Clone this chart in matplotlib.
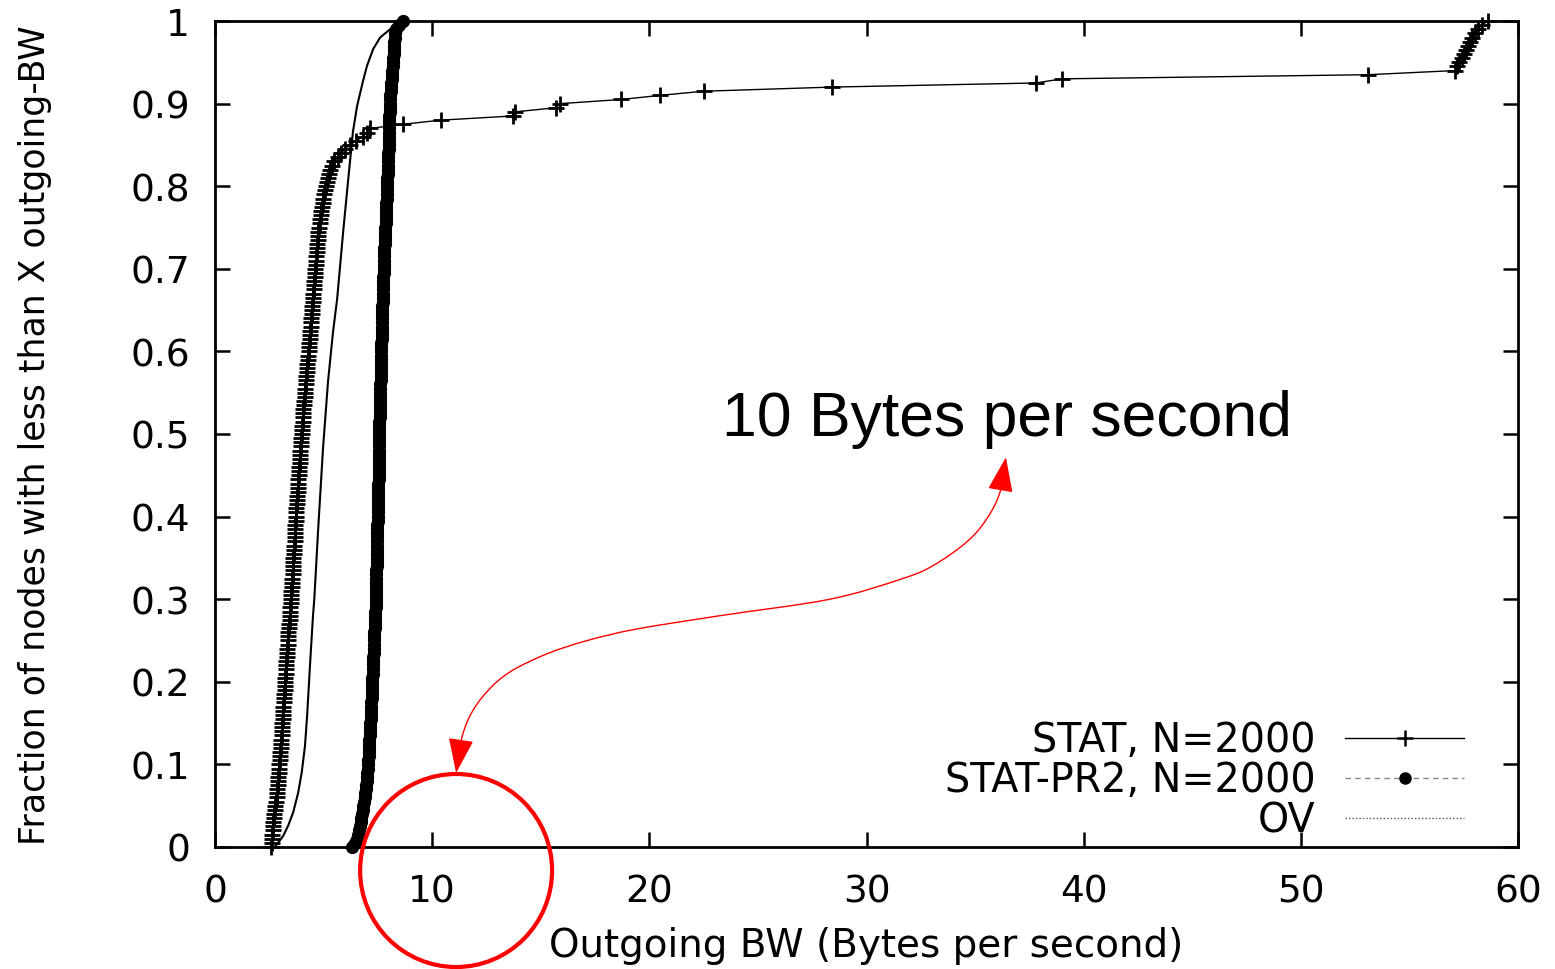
import numpy as np
import matplotlib
matplotlib.use("Agg")
import matplotlib.pyplot as plt
from matplotlib.lines import Line2D
from matplotlib.patches import Ellipse, FancyArrowPatch, ArrowStyle
from matplotlib.path import Path

# sorted per-node outgoing bandwidth samples (one every 10 nodes)
stat_bw = [
    2.58, 2.60, 2.61, 2.63, 2.65, 2.67, 2.69, 2.71, 2.73, 2.76, 2.78, 2.81, 2.84,
    2.85, 2.87, 2.88, 2.90, 2.91, 2.93, 2.94, 2.96, 2.97, 2.99, 3.00, 3.02, 3.03, 3.04, 3.06, 3.07,
    3.08, 3.09, 3.11, 3.12, 3.13, 3.15, 3.16, 3.17, 3.18, 3.20, 3.21, 3.22, 3.23, 3.25, 3.26, 3.27,
    3.28, 3.30, 3.31, 3.33, 3.34, 3.36, 3.37, 3.38, 3.40, 3.41, 3.43, 3.44, 3.46, 3.47, 3.49, 3.50,
    3.51, 3.52, 3.53, 3.55, 3.56, 3.57, 3.58, 3.59, 3.60, 3.61, 3.63, 3.64, 3.65, 3.66, 3.67, 3.68,
    3.69, 3.70, 3.72, 3.73, 3.74, 3.75, 3.77, 3.78, 3.79, 3.80, 3.82, 3.83, 3.84, 3.85, 3.87, 3.88,
    3.89, 3.91, 3.92, 3.93, 3.95, 3.96, 3.98, 3.99, 4.00, 4.02, 4.03, 4.05, 4.06, 4.07, 4.09, 4.10,
    4.12, 4.13, 4.15, 4.17, 4.19, 4.20, 4.22, 4.24, 4.25, 4.27, 4.29, 4.31, 4.32, 4.34, 4.35, 4.37,
    4.39, 4.40, 4.42, 4.44, 4.45, 4.47, 4.48, 4.50,
    4.51, 4.53, 4.54, 4.56, 4.57, 4.59, 4.60, 4.62, 4.63, 4.65, 4.66, 4.68, 4.69, 4.71, 4.72, 4.74, 4.76,
    4.78, 4.81, 4.84, 4.86, 4.89, 4.92, 4.95, 4.98,
    5.02, 5.06, 5.11, 5.16, 5.21, 5.26, 5.31, 5.37,
    5.50, 5.65, 5.80, 6.00, 6.20,
    6.50, 6.80, 7.00, 7.15,
    8.66, 10.4, 13.7, 13.8, 15.7, 15.9, 18.7, 20.5, 22.5, 28.4, 37.8, 39.0, 53.1, 57.1,
    57.2, 57.3, 57.4, 57.5, 57.6, 57.7, 57.8, 57.9, 58.0, 58.15, 58.35, 58.6,
]

pr2_bw = [
    6.30, 6.45, 6.52, 6.58, 6.62, 6.66, 6.70, 6.73, 6.76, 6.79, 6.82, 6.86, 6.90,
    6.92, 6.94, 6.96, 6.98, 7.00, 7.02, 7.03, 7.05,
    7.06, 7.07, 7.08, 7.09, 7.10, 7.11, 7.12, 7.13, 7.14, 7.15, 7.16, 7.17, 7.18, 7.19, 7.20, 7.21,
    7.22, 7.23, 7.23, 7.24, 7.25, 7.26, 7.27, 7.27, 7.28, 7.29, 7.30, 7.31, 7.31, 7.32, 7.33, 7.34,
    7.35, 7.35, 7.36, 7.37, 7.38, 7.39, 7.39, 7.40,
    7.40, 7.41, 7.41, 7.42, 7.42, 7.43, 7.43, 7.44, 7.44, 7.45, 7.45, 7.46, 7.46, 7.47, 7.47, 7.47,
    7.48, 7.48, 7.49, 7.49, 7.50, 7.50, 7.51, 7.51,
    7.51, 7.52, 7.52, 7.52, 7.53, 7.53, 7.53, 7.54, 7.54, 7.54, 7.55, 7.55, 7.55, 7.56, 7.56, 7.56,
    7.57, 7.57, 7.57, 7.58, 7.58, 7.58, 7.59, 7.59,
    7.60, 7.60, 7.61, 7.61, 7.62, 7.62, 7.63, 7.63, 7.64, 7.64, 7.65, 7.65, 7.66, 7.66, 7.67, 7.67,
    7.68, 7.68, 7.69, 7.69, 7.70, 7.70, 7.71, 7.72,
    7.72, 7.73, 7.73, 7.74, 7.75, 7.75, 7.76, 7.77, 7.77, 7.78, 7.79, 7.79, 7.80, 7.81, 7.81, 7.82, 7.83,
    7.84, 7.85, 7.86, 7.86, 7.87, 7.88, 7.89, 7.90, 7.91, 7.92, 7.93, 7.94, 7.94, 7.95, 7.96, 7.97,
    7.97, 7.98, 7.98, 7.99, 7.99, 8.00, 8.00, 8.01, 8.01, 8.02, 8.03, 8.03, 8.04, 8.04, 8.05, 8.06,
    8.07, 8.09, 8.10, 8.12, 8.13, 8.15, 8.16, 8.18,
    8.19, 8.21, 8.22, 8.23, 8.25, 8.26, 8.27, 8.29,
    8.35, 8.45, 8.66,
]

# OV curve (x, fraction) pairs
ov_bw = [2.75, 3.13, 3.37, 3.60, 3.83, 3.99, 4.14, 4.24, 4.37, 4.51, 4.57, 4.74, 4.97, 5.20,
         5.43, 5.62, 5.90, 6.12, 6.35, 6.54, 6.80, 7.00, 7.28, 7.60, 8.06, 8.50, 8.80, 10.5]
ov_frac = [0, 0.013, 0.026, 0.042, 0.066, 0.09, 0.122, 0.159, 0.219, 0.28, 0.30, 0.381, 0.482,
           0.563, 0.623, 0.663, 0.745, 0.805, 0.866, 0.897, 0.926, 0.946, 0.966, 0.98, 0.99,
           0.999, 1.0, 1.0]

labels = ["STAT, N=2000", "STAT-PR2, N=2000", "OV"]
x_ticks = [0, 10, 20, 30, 40, 50, 60]
y_ticks = [0, 0.1, 0.2, 0.3, 0.4, 0.5, 0.6, 0.7, 0.8, 0.9, 1.0]
y_tick_labels = ["0", "0.1", "0.2", "0.3", "0.4", "0.5", "0.6", "0.7", "0.8", "0.9", "1"]
note = "10 Bytes per second"


def ecdf(values):
    xs = np.sort(np.asarray(values, dtype=float))
    ys = np.arange(len(xs)) / (len(xs) - 1)
    return xs, ys


def smooth_path(pts):
    # catmull-rom through the points, as cubic bezier pieces
    p = np.asarray(pts, dtype=float)
    p = np.vstack([p[0], p, p[-1]])
    verts = [p[1]]
    codes = [Path.MOVETO]
    for i in range(1, len(p) - 2):
        c1 = p[i] + (p[i + 1] - p[i - 1]) / 6.0
        c2 = p[i + 1] - (p[i + 2] - p[i]) / 6.0
        verts += [c1, c2, p[i + 1]]
        codes += [Path.CURVE4] * 3
    return Path(verts, codes)


plt.rcParams["font.family"] = ["DejaVu Sans"]

fig = plt.figure(figsize=(15.55, 9.70), dpi=100)
ax = fig.add_axes([0.1383, 0.1258, 0.8379, 0.8515])

sx, sy = ecdf(stat_bw)
ax.plot(sx, sy, color="black", lw=1.0, marker="+", ms=12, mew=2.0, clip_on=False, zorder=3)

px, py = ecdf(pr2_bw)
ax.plot(px, py, color="#777777", lw=1.0, ls="--", marker="o", ms=8.5,
        mfc="black", mec="black", clip_on=False, zorder=4)

ax.plot(ov_bw[:-1], ov_frac[:-1], color="black", lw=1.5, clip_on=False, zorder=2)
ax.plot(ov_bw[-2:], ov_frac[-2:], color="#555555", lw=1.0, ls=":", clip_on=False, zorder=2)

ax.set_xlim(0, 60)
ax.set_ylim(0, 1)
ax.set_xticks(x_ticks)
ax.set_yticks(y_ticks)
ax.set_yticklabels(y_tick_labels)
ax.tick_params(direction="in", top=True, right=True, length=11, width=1.8,
               labelsize=27, color="black")
ax.tick_params(axis="x", pad=19)
ax.tick_params(axis="y", pad=18)
for sp in ax.spines.values():
    sp.set_linewidth(2.0)

ax.set_xlabel("Outgoing BW (Bytes per second)", fontsize=28, va="center")
ax.xaxis.set_label_coords(0.5, -0.119)
ax.set_ylabel("Fraction of nodes with less than X outgoing-BW", fontsize=25,
              ha="center", va="center")
ax.yaxis.set_label_coords(-0.138, 0.5)

handles = [
    Line2D([], [], color="black", lw=1.0, marker="+", ms=12, mew=1.8),
    Line2D([], [], color="#888888", lw=1.0, ls=(0, (4, 3)), marker="o", ms=8,
           mfc="black", mec="black"),
    Line2D([], [], color="#555555", lw=1.0, ls=(0, (1, 1.5))),
]
leg = ax.legend(handles, labels, loc="lower right", bbox_to_anchor=(0.9586, 0.008),
                frameon=False, markerfirst=False, fontsize=28.5, handlelength=3.0,
                handletextpad=0.75, labelspacing=0.0, borderpad=0, borderaxespad=0)

# annotation: circle around the 10 B/s tick, curved arrow to the text
ax.add_patch(Ellipse((11.10, -0.0285), 8.84, 0.2337, fill=False, ec="red", lw=3.0,
                     clip_on=False, zorder=5))
arrow_pts = [(11.10, 0.0896), (11.31, 0.1268), (11.74, 0.1589), (12.51, 0.1877),
             (13.58, 0.2119), (15.27, 0.2337), (17.12, 0.2498), (19.42, 0.2639),
             (23.25, 0.2800), (28.32, 0.3000), (31.61, 0.3245), (33.06, 0.3406),
             (34.61, 0.3692), (35.53, 0.3970), (36.15, 0.4298), (36.42, 0.4718)]
arrow = FancyArrowPatch(path=smooth_path(arrow_pts),
                        arrowstyle=ArrowStyle("<|-|>", head_length=22, head_width=8),
                        mutation_scale=1, color="red", lw=1.0, clip_on=False, zorder=5)
ax.add_patch(arrow)
ax.text(36.45, 0.499, note, fontsize=45, family=["Liberation Sans", "DejaVu Sans"],
        ha="center", va="baseline", color="black")

fig.savefig("out.png", dpi=100)
